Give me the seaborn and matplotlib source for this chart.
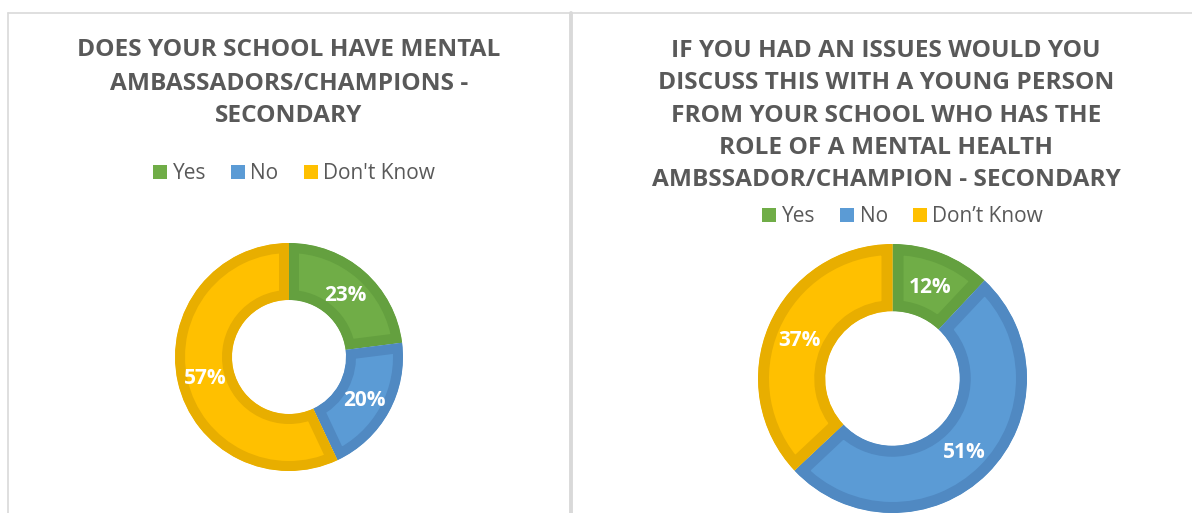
import matplotlib
matplotlib.use("Agg")
import matplotlib.pyplot as plt
import seaborn as sns
from matplotlib.patches import Patch
from matplotlib.lines import Line2D

sns.set_theme(style="white")
plt.rcParams['font.family'] = ['Open Sans', 'DejaVu Sans']

# ---- data ----
categories_left = ["Yes", "No", "Don't Know"]
categories_right = ["Yes", "No", "Don\u2019t Know"]
values_left = [23, 20, 57]
values_right = [12, 51, 37]
title_left = "DOES YOUR SCHOOL HAVE MENTAL\nAMBASSADORS/CHAMPIONS -\nSECONDARY"
title_right = ("IF YOU HAD AN ISSUES WOULD YOU\nDISCUSS THIS WITH A YOUNG PERSON\n"
               "FROM YOUR SCHOOL WHO HAS THE\nROLE OF A MENTAL HEALTH\n"
               "AMBSSADOR/CHAMPION - SECONDARY")

fill_colors = sns.color_palette(["#70AD47", "#5B9BD5", "#FFC000"])
edge_colors = ["#64A03F", "#5089C2", "#E8AE00"]
text_gray = "#595959"
border_gray = "#D9D9D9"

W, H = 1192, 513
fig = plt.figure(figsize=(W / 100, H / 100), dpi=100)
fig.patch.set_facecolor("white")


def px_axes(cx, cy, r):
    return fig.add_axes([(cx - r) / W, 1 - (cy + r) / H, 2 * r / W, 2 * r / H])


def donut(ax, values, band_px):
    wedges, _, autotexts = ax.pie(
        values, colors=fill_colors, startangle=90, counterclock=False,
        autopct=lambda p: f"{p:.0f}%", pctdistance=0.75,
        wedgeprops=dict(width=0.5), radius=1.0)
    for w, ec in zip(wedges, edge_colors):
        w.set_edgecolor(ec)
        w.set_linewidth(2 * band_px * 72 / 100)
        w.set_joinstyle("miter")
        w.set_clip_on(True)
        w.set_clip_path(w)
    for t in autotexts:
        t.set_color("white")
        t.set_fontweight("bold")
        t.set_fontsize(15)
        t.set_va("center_baseline")
    ax.set_xlim(-1, 1)
    ax.set_ylim(-1, 1)
    ax.set_aspect("equal")
    ax.axis("off")


ax1 = px_axes(289, 357, 114)
donut(ax1, values_left, 10)
ax2 = px_axes(892.5, 378.5, 134.5)
donut(ax2, values_right, 11)

# titles
fig.text(289 / W, 1 - 83.5 / H, title_left, ha="center", va="center",
         fontsize=17.6, fontweight="bold", color=text_gray, linespacing=1.5)
fig.text(886 / W, 1 - 115.5 / H, title_right, ha="center", va="center",
         fontsize=17.6, fontweight="bold", color=text_gray, linespacing=1.47)

# legends
def legend(cats, x, y):
    handles = [Patch(facecolor=c, edgecolor="none", label=l) for c, l in zip(fill_colors, cats)]
    fig.legend(handles=handles, loc="center", bbox_to_anchor=(x / W, 1 - y / H),
               ncol=3, frameon=False, handlelength=0.68, handleheight=0.68,
               handletextpad=0.25, columnspacing=1.2, fontsize=15,
               labelcolor=text_gray, borderaxespad=0, borderpad=0)

legend(categories_left, 294, 173.5)
legend(categories_right, 902.5, 217)

# panel borders
fig.add_artist(Line2D([8 / W, 1], [1 - 13 / H] * 2, color=border_gray, lw=1.2, transform=fig.transFigure))
fig.add_artist(Line2D([8 / W] * 2, [0, 1 - 13 / H], color=border_gray, lw=1.2, transform=fig.transFigure))
fig.add_artist(Line2D([570.5 / W] * 2, [0, 1 - 13 / H], color=border_gray, lw=2.8, transform=fig.transFigure))

fig.savefig("out.png", dpi=100, facecolor="white")
